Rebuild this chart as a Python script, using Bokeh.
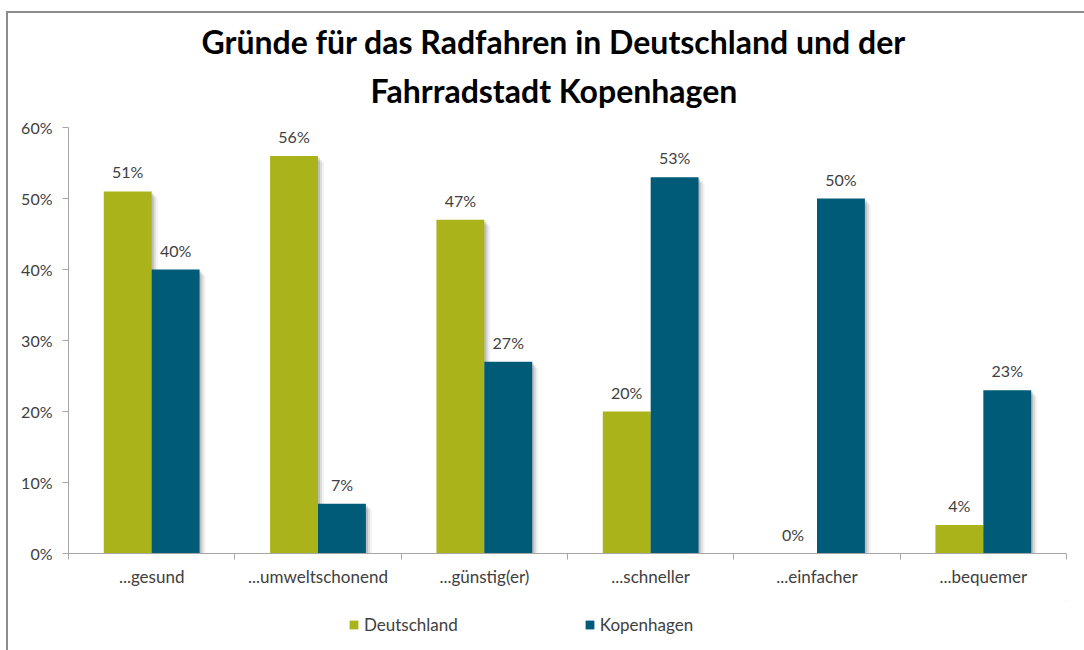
from bokeh.plotting import figure
from bokeh.layouts import column
from bokeh.models import (ColumnDataSource, Range1d, FixedTicker, NumeralTickFormatter,
                          LabelSet, Legend, LegendItem, Title)
from bokeh.core.properties import value
from bokeh.transform import dodge
from bokeh.embed import file_html
from bokeh.resources import INLINE

categories = ["...gesund", "...umweltschonend", "...günstig(er)", "...schneller", "...einfacher", "...bequemer"]
deutschland = [0.51, 0.56, 0.47, 0.20, 0.00, 0.04]
kopenhagen = [0.40, 0.07, 0.27, 0.53, 0.50, 0.23]
y_ticks = [0, 0.1, 0.2, 0.3, 0.4, 0.5, 0.6]
series_names = ["Deutschland", "Kopenhagen"]
title_lines = ["Gründe für das Radfahren in Deutschland und der", "Fahrradstadt Kopenhagen"]

GREEN = "#AAB41A"
BLUE = "#005B78"
FONT = "Lato"
TXT = "#404040"
AXC = "#a6a6a6"

xc = [i + 0.5 for i in range(len(categories))]
bw = 0.288
PX_X = 6.0 / 998.0
PX_Y = 0.6 / 426.0

src = ColumnDataSource(dict(
    x=xc, de=deutschland, kp=kopenhagen,
    de_lbl=[f"{round(v*100)}%" for v in deutschland],
    kp_lbl=[f"{round(v*100)}%" for v in kopenhagen],
))

p = figure(width=1076, height=587, output_backend="svg", toolbar_location=None,
           x_range=Range1d(0, 6), y_range=Range1d(0, 0.6),
           min_border_left=60, min_border_right=18, min_border_top=114, min_border_bottom=47)
p.outline_line_color = None
p.xgrid.visible = False
p.ygrid.visible = False
p.background_fill_color = "white"
p.border_fill_color = "white"

# soft shadows behind bars
for d, a in [(6, 0.05), (4, 0.09), (2, 0.14)]:
    for off, vals in [(-bw / 2, deutschland), (bw / 2, kopenhagen)]:
        s = ColumnDataSource(dict(x=[v + off + d * PX_X for v in xc],
                                  top=[max(v - d * PX_Y, 0) if v > 0 else 0 for v in vals]))
        p.vbar(x="x", top="top", bottom=0, width=bw, source=s,
               fill_color="#000000", fill_alpha=a, line_color=None)

p.vbar(x=dodge("x", -bw / 2, range=p.x_range), top="de", width=bw, source=src,
       fill_color=GREEN, line_color=None)
p.vbar(x=dodge("x", bw / 2, range=p.x_range), top="kp", width=bw, source=src,
       fill_color=BLUE, line_color=None)

for key, off in [("de", -bw / 2), ("kp", bw / 2)]:
    ls = LabelSet(x=dodge("x", off, range=p.x_range), y=key, text=key + "_lbl", source=src,
                  text_align="center", text_baseline="alphabetic", y_offset=13,
                  text_font=value(FONT), text_font_size=value("16px"), text_color=TXT)
    p.add_layout(ls)

# axes
xa = p.xaxis[0]
xa.ticker = FixedTicker(ticks=xc, minor_ticks=list(range(len(categories) + 1)))
xa.major_label_overrides = {v: c for v, c in zip(xc, categories)}
xa.major_tick_line_color = None
xa.major_tick_in = 0
xa.major_tick_out = 0
xa.minor_tick_in = 0
xa.minor_tick_out = 6
xa.minor_tick_line_color = AXC
xa.axis_line_color = AXC
xa.major_label_text_font = FONT
xa.major_label_text_font_size = "17px"
xa.major_label_text_color = TXT
xa.major_label_standoff = 6

ya = p.yaxis[0]
ya.ticker = FixedTicker(ticks=y_ticks)
ya.formatter = NumeralTickFormatter(format="0%")
ya.major_tick_in = 0
ya.major_tick_out = 6
ya.minor_tick_line_color = None
ya.major_tick_line_color = AXC
ya.axis_line_color = AXC
ya.major_label_text_font = FONT
ya.major_label_text_font_size = "16px"
ya.major_label_text_color = TXT
ya.major_label_standoff = 10

# title lines (closest to frame added first)
title_offsets = [133, 302]
title_standoffs = [-19, 35]
for i in (1, 0):
    p.add_layout(Title(text=title_lines[i], align="left", offset=title_offsets[i],
                       standoff=title_standoffs[i], text_font=FONT, text_font_size="32px",
                       text_font_style="bold", text_color="black"), "above")

# legend strip
lg = figure(width=1076, height=50, output_backend="svg", toolbar_location=None,
            x_range=Range1d(0, 1), y_range=Range1d(0, 1),
            x_axis_location=None, y_axis_location=None,
            min_border=0, min_border_left=0, min_border_right=0, min_border_top=0, min_border_bottom=0)
lg.outline_line_color = None
lg.xgrid.visible = False
lg.ygrid.visible = False
hidden = ColumnDataSource(dict(x=[5.0], top=[5.0]))
d1 = lg.vbar(x="x", top="top", bottom=4.0, width=0.1, source=hidden, fill_color=GREEN, line_color=None)
d2 = lg.vbar(x="x", top="top", bottom=4.0, width=0.1, source=hidden, fill_color=BLUE, line_color=None)
legend = Legend(items=[LegendItem(label=series_names[0], renderers=[d1]),
                       LegendItem(label=series_names[1], renderers=[d2])],
                orientation="horizontal", location=(280, 15),
                glyph_width=11, glyph_height=11, label_standoff=5, spacing=126,
                label_text_font=FONT, label_text_font_size="17px", label_text_color=TXT,
                border_line_color=None, background_fill_alpha=0, padding=0, margin=0)
lg.add_layout(legend, "center")

layout = column(p, lg, spacing=0, margin=(11, 0, 0, 6),
                styles={"border-left": "2px solid #8c8c8c", "border-top": "2px solid #8c8c8c"})

open("out.html", "w").write(file_html(layout, INLINE))
